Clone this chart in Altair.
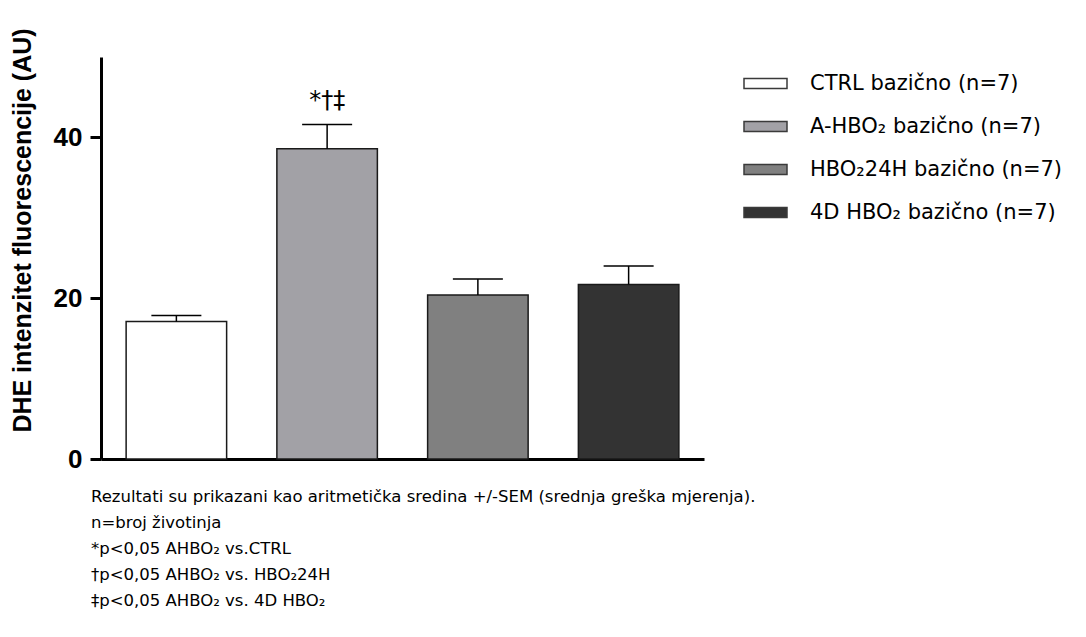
import altair as alt
import pandas as pd

groups = ["CTRL bazično (n=7)", "A-HBO₂ bazično (n=7)", "HBO₂24H bazično (n=7)", "4D HBO₂ bazično (n=7)"]
means = [17.1, 38.6, 20.4, 21.7]
sems = [0.75, 3.0, 2.0, 2.3]
colors = ["#ffffff", "#a2a1a6", "#808080", "#333333"]
sig = ["", "*†‡", "", ""]
y_ticks = [0, 20, 40]
y_title = "DHE intenzitet fluorescencije (AU)"
footnotes = [
    "Rezultati su prikazani kao aritmetička sredina +/-SEM (srednja greška mjerenja).",
    "n=broj životinja",
    "*p<0,05 AHBO₂ vs.CTRL",
    "†p<0,05 AHBO₂ vs. HBO₂24H",
    "‡p<0,05 AHBO₂ vs. 4D HBO₂",
]

df = pd.DataFrame({"group": groups, "mean": means, "sem": sems, "sig": sig})
df["upper"] = df["mean"] + df["sem"]

xenc = alt.X("group:N", sort=groups,
             scale=alt.Scale(paddingInner=1/3, paddingOuter=1/6),
             axis=alt.Axis(labels=False, ticks=False, title=None, grid=False,
                           domainWidth=3, domainColor="black"))
yscale = alt.Scale(domain=[0, 50], nice=False)
yaxis = alt.Axis(values=y_ticks, title=y_title, grid=False,
                 domainWidth=3, domainColor="black",
                 tickSize=11, tickWidth=3, tickColor="black",
                 labelFont="Liberation Sans", labelFontSize=26,
                 labelFontWeight="bold", labelColor="black",
                 labelPadding=8,
                 titleFont="Liberation Sans", titleFontSize=25,
                 titleFontWeight="bold", titleColor="black",
                 titleX=-79, titleY=173, titleBaseline="middle",
                 titleAlign="center", titleAngle=270)

base = alt.Chart(df)

bars = base.mark_bar(stroke="#1a1a1a", strokeWidth=1.5, opacity=1).encode(
    x=xenc,
    y=alt.Y("mean:Q", scale=yscale, axis=yaxis),
    color=alt.Color("group:N", sort=groups,
                    scale=alt.Scale(domain=groups, range=colors),
                    legend=alt.Legend(
                        title=None, orient="none", legendX=642, legendY=4,
                        symbolType="M-1,-0.23H1V0.23H-1Z", symbolSize=1849,
                        symbolStrokeColor="#3a3a3a", symbolStrokeWidth=1.5,
                        symbolOpacity=1,
                        labelFont="DejaVu Sans", labelFontSize=21,
                        labelColor="black", labelOffset=22, rowPadding=10,
                        labelLimit=400)),
)

err = base.mark_rule(color="black", strokeWidth=1.5).encode(
    x=xenc,
    y=alt.Y("mean:Q", scale=yscale, axis=yaxis),
    y2="upper:Q",
)

caps = base.mark_tick(color="black", thickness=1.5, size=50, opacity=1).encode(
    x=xenc,
    y=alt.Y("upper:Q", scale=yscale, axis=yaxis),
)

stars = base.mark_text(fontSize=24, font="DejaVu Sans", baseline="alphabetic",
                       dy=-17, color="black").encode(
    x=xenc,
    y=alt.Y("upper:Q", scale=yscale, axis=yaxis),
    text="sig:N",
)

chart = alt.layer(bars, err, caps, stars).properties(
    width=603, height=402,
    background="white",
    autosize=alt.AutoSizeParams(type="none"),
    padding={"left": 93, "top": 49, "right": 370, "bottom": 166},
    title=alt.TitleParams(text=footnotes, orient="bottom", anchor="start",
                          frame="group", font="DejaVu Sans", fontSize=16.5,
                          fontWeight="normal", color="black", lineHeight=26,
                          offset=17, dx=-10),
).configure_view(stroke=None, strokeWidth=0).configure_axis(grid=False)

chart.save("out.html", embed_options={"renderer": "svg", "actions": False})
